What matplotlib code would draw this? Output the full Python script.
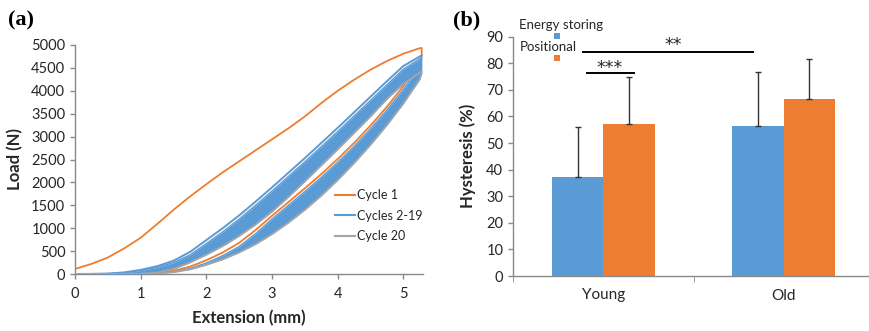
import numpy as np
import matplotlib
matplotlib.use("Agg")
import matplotlib.pyplot as plt
from matplotlib.lines import Line2D
from matplotlib.patches import Rectangle

plt.rcParams['font.family'] = ['Lato', 'DejaVu Sans']

nan = np.nan

# (a) load-extension loops, sampled on a common extension grid (mm)
ext_mm = [0, 0.25, 0.5, 0.75, 1.0, 1.25, 1.5, 1.75, 2.0, 2.25, 2.5, 2.75,
          3.0, 3.25, 3.5, 3.75, 4.0, 4.25, 4.5, 4.75, 5.0, 5.25, 5.28]

cycle1_load = [110, 220, 360, 560, 790, 1090, 1400, 1690, 1960, 2220, 2460, 2700,
               2940, 3180, 3440, 3730, 4000, 4240, 4460, 4650, 4810, 4930, 4935]
cycle1_unload = [nan, nan, nan, nan, 0, 20, 70, 160, 300, 470, 680, 960,
                 1270, 1570, 1870, 2180, 2510, 2860, 3240, 3650, 4100, 4600, 4760]

cycle2_load = [0, 3, 10, 35, 90, 170, 290, 480, 740, 1000, 1280, 1580,
               1890, 2210, 2530, 2860, 3190, 3530, 3870, 4210, 4540, 4750, 4770]
cycle3_load = [0, 2, 8, 28, 75, 145, 250, 415, 665, 920, 1200, 1500,
               1810, 2130, 2450, 2780, 3110, 3450, 3790, 4130, 4470, 4700, 4730]
cycle2_unload = [nan, nan, 0, 0, 3, 12, 45, 120, 240, 400, 600, 880,
                 1200, 1500, 1800, 2110, 2440, 2790, 3170, 3580, 4030, 4530, 4700]

cycle20_load = [0, 0, 0, 0, 5, 30, 110, 250, 420, 610, 830, 1080,
                1360, 1680, 2020, 2370, 2720, 3080, 3440, 3820, 4150, 4400, 4430]
cycle20_unload = [0, 0, 0, 0, 0, 8, 40, 100, 200, 320, 470, 650,
                  870, 1120, 1400, 1710, 2050, 2420, 2820, 3250, 3720, 4250, 4380]

# (b) hysteresis by group
groups = ['Young', 'Old']
energy_storing = [37.4, 56.5]
energy_storing_sd = [18.8, 20.2]
positional = [57.2, 66.4]
positional_sd = [17.6, 15.3]

ORANGE = '#ED7D31'
BLUE = '#5B9BD5'
GREY = '#A5A5A5'
SPINE = '#898989'
TXT = '#262626'

fig = plt.figure(figsize=(8.69, 3.31), dpi=100)

# ---------- panel (a) ----------
ax1 = fig.add_axes([75 / 869, 57 / 331, 348 / 869, 229 / 331])
x = np.array(ext_mm)

# cycle 1 as a closed path: loading out, unloading back
loop_x = np.concatenate([x, x[::-1]])
loop_y = np.concatenate([cycle1_load, np.array(cycle1_unload)[::-1]])
ax1.plot(loop_x, loop_y, color=ORANGE, lw=1.3, zorder=2)

# cycles 2-19 fill the band between the first and last of them
ax1.fill_between(x, cycle20_load, cycle3_load, color=BLUE, lw=0, zorder=3)
ax1.fill_between(x, cycle20_unload, cycle2_unload, color=BLUE, lw=0, zorder=3)
ax1.plot(x, cycle2_load, color=BLUE, lw=1.4, zorder=3)
ax1.plot(x, cycle3_load, color=BLUE, lw=1.0, zorder=3)
ax1.plot(x, cycle2_unload, color=BLUE, lw=1.0, zorder=3)

ax1.plot(x, cycle20_load, color=GREY, lw=1.3, zorder=4)
ax1.plot(x, cycle20_unload, color=GREY, lw=1.3, zorder=4)

ax1.set_xlim(0, 5.3)
ax1.set_ylim(0, 5000)
ax1.set_xticks([0, 1, 2, 3, 4, 5])
ax1.set_yticks(range(0, 5001, 500))
ax1.set_xlabel('Extension (mm)', fontsize=12, fontweight='bold', color=TXT, va='center')
ax1.xaxis.set_label_coords(0.5, -0.192)
ax1.set_ylabel('Load (N)', fontsize=12, fontweight='bold', color=TXT, va='center')
ax1.yaxis.set_label_coords(-0.172, 0.5)

handles = [Line2D([], [], color=ORANGE, lw=1.5),
           Line2D([], [], color=BLUE, lw=1.5),
           Line2D([], [], color=GREY, lw=1.5)]
ax1.legend(handles, ['Cycle 1', 'Cycles 2-19', 'Cycle 20'], loc='upper left',
           bbox_to_anchor=((335 - 75) / 348, (274 - 189) / 229), frameon=False,
           fontsize=9, borderpad=0, borderaxespad=0, handlelength=1.6,
           handletextpad=0.2, labelspacing=0.68, labelcolor=TXT)

# ---------- panel (b) ----------
ax2 = fig.add_axes([513 / 869, 55 / 331, 361 / 869, 239.3 / 331])
pos = np.arange(len(groups))
w = 0.285
ax2.bar(pos - w / 2, energy_storing, w, color=BLUE, zorder=2)
ax2.bar(pos + w / 2, positional, w, color=ORANGE, zorder=2)
ax2.errorbar(pos - w / 2, energy_storing, yerr=[[0, 0], energy_storing_sd],
             fmt='none', ecolor='#333333', elinewidth=1, capsize=2.5, capthick=1, zorder=3)
ax2.errorbar(pos + w / 2, positional, yerr=[[0, 0], positional_sd],
             fmt='none', ecolor='#333333', elinewidth=1, capsize=2.5, capthick=1, zorder=3)

# significance brackets
ax2.plot([-0.091, 0.169], [76.2, 76.2], color='black', lw=1.4)
ax2.text(0.036, 78.3, '***', ha='center', va='center', fontsize=12.5,
         family='DejaVu Sans', color=TXT)
ax2.plot([-0.114, 0.828], [84.4, 84.4], color='black', lw=1.4)
ax2.text(0.385, 86.7, '**', ha='center', va='center', fontsize=12.5,
         family='DejaVu Sans', color=TXT)

ax2.set_xlim(-0.5, 1.5)
ax2.set_ylim(0, 90)
ax2.set_yticks(range(0, 91, 10))
ax2.set_xticks(pos)
ax2.set_xticklabels(groups)
ax2.set_xticks([-0.5, 0.5, 1.5], minor=True)
ax2.tick_params(axis='x', which='minor', length=4, color=SPINE)
ax2.set_ylabel('Hysteresis (%)', fontsize=12, fontweight='bold', color=TXT, va='center')
ax2.yaxis.set_label_coords(-0.125, 0.5)

for ax in (ax1, ax2):
    for side in ('top', 'right'):
        ax.spines[side].set_visible(False)
    for side in ('left', 'bottom'):
        ax.spines[side].set_color(SPINE)
        ax.spines[side].set_linewidth(1)
    ax.tick_params(which='major', direction='out', length=3.5, color=SPINE,
                   labelsize=10.5, labelcolor=TXT, width=1)
ax1.tick_params(axis='x', pad=6)
ax2.tick_params(axis='x', which='major', length=0, pad=9, labelsize=11)

# series key for (b)
fig.text(519 / 869, 1 - 25 / 331, 'Energy storing', fontsize=9.5, va='center', color=TXT)
fig.text(520 / 869, 1 - 47 / 331, 'Positional', fontsize=9.5, va='center', color=TXT)
for cy, col in ((36, BLUE), (58, ORANGE)):
    fig.add_artist(Rectangle(((557 - 3.4) / 869, 1 - (cy + 3.4) / 331), 6.8 / 869, 6.8 / 331,
                             transform=fig.transFigure, color=col, lw=0))

# panel letters
fig.text(8 / 869, 1 - 20 / 331, '(a)', fontsize=16, fontweight='bold',
         family='Liberation Serif', va='center')
fig.text(453 / 869, 1 - 20 / 331, '(b)', fontsize=16, fontweight='bold',
         family='Liberation Serif', va='center')

fig.savefig('out.png', dpi=100)
